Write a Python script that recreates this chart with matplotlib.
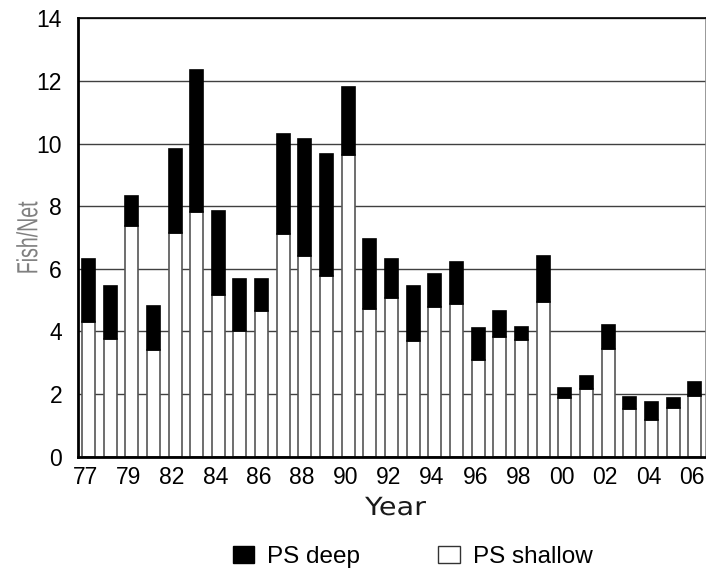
import matplotlib
matplotlib.use("Agg")
import matplotlib.pyplot as plt
from matplotlib.patches import Patch
from matplotlib.patheffects import AbstractPathEffect
from matplotlib.transforms import Affine2D, ScaledTranslation

# Survey years (no sampling in 1981) and catch per net
years = ['77', '78', '79', '80', '82', '83', '84', '85', '86', '87',
         '88', '89', '90', '91', '92', '93', '94', '95', '96', '97',
         '98', '99', '00', '01', '02', '03', '04', '05', '06']
ps_shallow = [4.30, 3.77, 7.37, 3.42, 7.14, 7.80, 5.17, 4.01, 4.64, 7.12,
              6.42, 5.76, 9.64, 4.71, 5.06, 3.69, 4.77, 4.88, 3.09, 3.83,
              3.74, 4.94, 1.86, 2.17, 3.43, 1.52, 1.16, 1.54, 1.93]
ps_total = [6.31, 5.46, 8.32, 4.82, 9.84, 12.34, 7.85, 5.66, 5.69, 10.32,
            10.16, 9.66, 11.82, 6.95, 6.30, 5.45, 5.82, 6.21, 4.11, 4.66,
            4.13, 6.41, 2.19, 2.58, 4.22, 1.92, 1.74, 1.88, 2.38]
ps_deep = [t - s for t, s in zip(ps_total, ps_shallow)]


class Stretch(AbstractPathEffect):
    """Scale glyph paths along the baseline about their centre."""

    def __init__(self, sx):
        super().__init__()
        self.sx = sx

    def draw_path(self, renderer, gc, tpath, affine, rgbFace=None):
        ext = tpath.get_extents()
        cx = 0.5 * (ext.x0 + ext.x1)
        t = Affine2D().translate(-cx, 0).scale(self.sx, 1).translate(cx, 0) + affine
        renderer.draw_path(gc, tpath, t, rgbFace)


W, H = 706, 569
fig = plt.figure(figsize=(W / 100, H / 100), dpi=100)
ax = fig.add_axes([78 / W, 1 - 456.7 / H, (705.6 - 78) / W, (456.7 - 18.3) / H])

x = list(range(len(years)))
bw = 0.6
ax.bar(x, ps_shallow, width=bw, color='white', edgecolor='#555555',
       linewidth=1.2, zorder=2)
ax.bar(x, ps_deep, bottom=ps_shallow, width=bw, color='black',
       edgecolor='black', linewidth=1.2, zorder=2)

ax.set_xlim(-0.48, 28.5)
ax.set_ylim(0, 14)
ax.set_yticks(range(0, 15, 2))
ax.set_xticks(x[::2])
ax.set_xticklabels(years[::2])

tick_font = dict(family='Liberation Sans', size=16.5)
for lab in ax.get_xticklabels() + ax.get_yticklabels():
    lab.set_fontfamily(tick_font['family'])
    lab.set_fontsize(tick_font['size'])
ax.tick_params(axis='y', length=0, pad=11.5)
ax.tick_params(axis='x', length=0, pad=7)
shift = ScaledTranslation(-3 / 100, 0, fig.dpi_scale_trans)
for lab in ax.get_xticklabels():
    lab.set_transform(lab.get_transform() + shift)

ax.yaxis.grid(True, color='#404040', linewidth=1)
ax.set_axisbelow(True)

ax.spines['left'].set_linewidth(2)
ax.spines['bottom'].set_linewidth(2)
ax.spines['top'].set_linewidth(1.2)
ax.spines['top'].set_color('black')
ax.spines['right'].set_linewidth(1.2)
ax.spines['right'].set_color('#888888')

fig.text(37.3 / W, 1 - 238.3 / H, 'Fish/Net', rotation=90,
         rotation_mode='anchor', ha='center', va='baseline',
         family='Liberation Sans', size=21, color='#808080',
         path_effects=[Stretch(0.67)])

fig.text(395.5 / W, 1 - 515 / H, 'Year', ha='center', va='baseline',
         family='DejaVu Sans', size=18, color='#1a1a1a',
         path_effects=[Stretch(1.15)])

handles = [Patch(facecolor='black', edgecolor='black', linewidth=1),
           Patch(facecolor='white', edgecolor='#333333', linewidth=1)]
fig.legend(handles, ['PS deep', 'PS shallow'], loc='center',
           bbox_to_anchor=(412.5 / W, 1 - 557 / H), ncol=2, frameon=False,
           prop=dict(family='Liberation Sans', size=17.5),
           handlelength=0.89, handleheight=0.74, handletextpad=0.53,
           columnspacing=3.2, borderpad=0, borderaxespad=0)

fig.savefig('out.png', dpi=100)
